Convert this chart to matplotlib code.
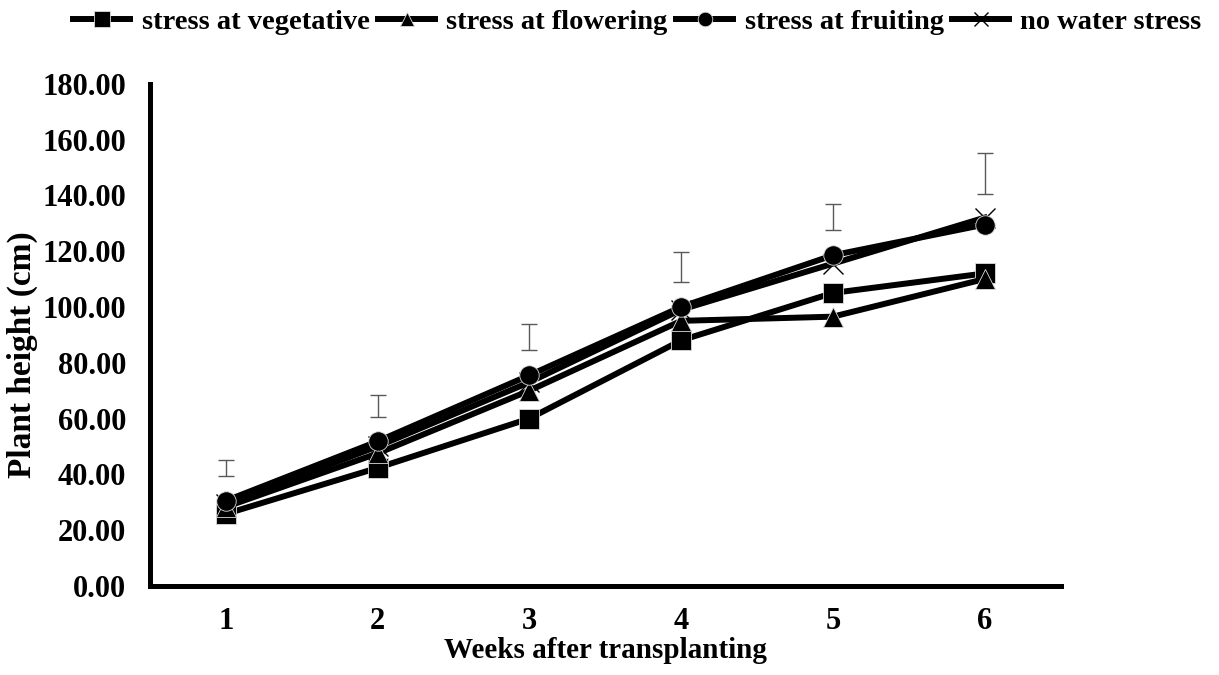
import numpy as np
import matplotlib
matplotlib.use('Agg')
from matplotlib import pyplot as plt

weeks = [1, 2, 3, 4, 5, 6]
vegetative = [25.8, 42.3, 60.0, 88.0, 105.0, 112.0]
flowering = [28.3, 47.5, 70.0, 95.0, 96.5, 110.0]
fruiting = [30.5, 51.8, 75.5, 100.0, 118.5, 129.5]
no_stress = [29.5, 50.0, 73.0, 99.0, 115.5, 132.0]
err_mid = [42.3, 64.6, 89.3, 114.3, 132.2, 147.8]
err_half = [2.9, 4.0, 4.7, 5.2, 4.7, 7.3]

plt.rcParams['font.family'] = ['Liberation Serif', 'DejaVu Serif']
plt.rcParams['font.weight'] = 'bold'

fig = plt.figure(figsize=(12.19, 6.75), dpi=100)
ax = fig.add_axes([0.123, 0.132, 0.747, 0.744])

ax.errorbar(weeks, err_mid, yerr=err_half, fmt='none', ecolor='#595959',
            elinewidth=1, capsize=6, capthick=1, zorder=1)

style = dict(color='black', lw=4.3, markeredgecolor='#dddddd', markeredgewidth=0.6, zorder=3)
ax.plot(weeks, vegetative, marker='s', markersize=14.5, label='stress at vegetative', **style)
ax.plot(weeks, flowering, marker='^', markersize=14, label='stress at flowering', **style)
ax.plot(weeks, fruiting, marker='o', markersize=14, label='stress at fruiting', **style)
ax.plot(weeks, no_stress, marker='x', markersize=14, color='black', lw=4.3,
        markeredgewidth=1, label='no water stress', zorder=2)

ax.set_xlim(0.5, 6.5)
ax.set_ylim(0, 180)
ax.set_xticks(weeks)
ax.set_yticks(np.arange(0, 181, 20))
ax.set_yticklabels(['{:.2f}'.format(v) for v in np.arange(0, 181, 20)])
ax.tick_params(axis='y', length=0, labelsize=22, pad=17)
ax.tick_params(axis='x', length=0, labelsize=22, pad=15)
for lbl in ax.get_xticklabels() + ax.get_yticklabels():
    lbl.set_fontweight('bold')

for s in ['top', 'right']:
    ax.spines[s].set_visible(False)
for s in ['left', 'bottom']:
    ax.spines[s].set_linewidth(3.6)

ax.set_xlabel('Weeks after transplanting', fontsize=21, fontweight='bold', labelpad=1)
ax.set_ylabel('Plant height (cm)', fontsize=24, fontweight='bold')
ax.yaxis.set_label_coords(-0.123, 0.46)

fig.legend(loc='center', bbox_to_anchor=(0.523, 0.967), ncol=4, frameon=False,
           prop={'size': 20.5, 'weight': 'bold'}, handlelength=2.0, handletextpad=0.4,
           columnspacing=0.3, markerscale=0.75)

plt.savefig('out.png', dpi=100)
